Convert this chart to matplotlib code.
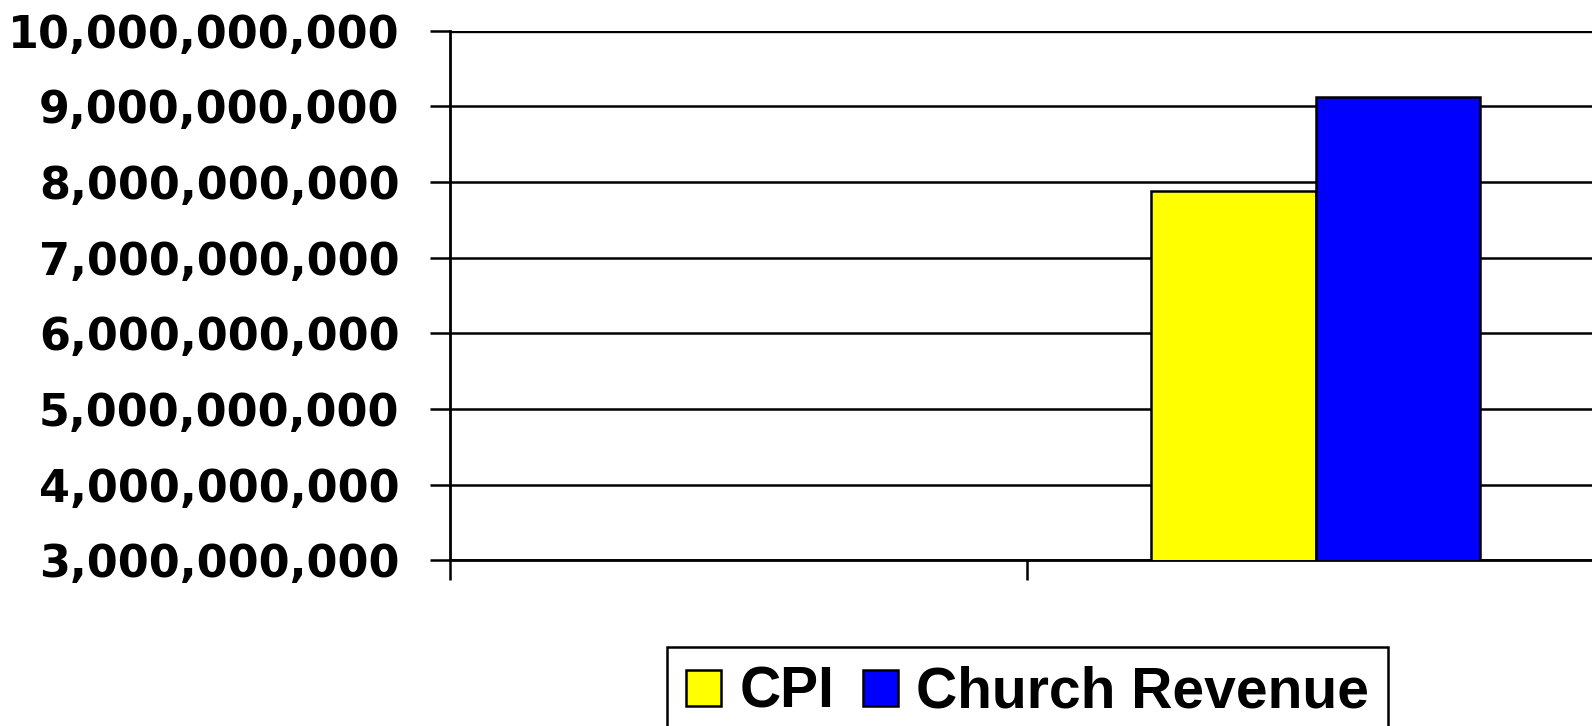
import numpy as np
import matplotlib
matplotlib.use("Agg")
import matplotlib.pyplot as plt
from matplotlib.patches import Rectangle

# ---- data ----
categories = ["", ""]
series_names = ["CPI", "Church Revenue"]
cpi = [np.nan, 7.88e9]
church_revenue = [np.nan, 9.115e9]
y_ticks = [3e9, 4e9, 5e9, 6e9, 7e9, 8e9, 9e9, 10e9]
y_tick_labels = ["3,000,000,000", "4,000,000,000", "5,000,000,000", "6,000,000,000",
                 "7,000,000,000", "8,000,000,000", "9,000,000,000", "10,000,000,000"]
colors = ["#FFFF00", "#0000FF"]

W, H = 1592, 726
fig = plt.figure(figsize=(W / 100, H / 100), dpi=100)
left, right = 450 / W, 1604 / W
top, bottom = 30.5 / H, 560.4 / H
ax = fig.add_axes([left, 1 - bottom, right - left, bottom - top])

n = len(categories)
x = np.arange(n) + 0.5
bw = 1 / 3.5
ax.bar(x - bw / 2, cpi, width=bw, color=colors[0], edgecolor="black", linewidth=1.8, zorder=3)
ax.bar(x + bw / 2, church_revenue, width=bw, color=colors[1], edgecolor="black", linewidth=1.8, zorder=3)

ax.set_xlim(0, n)
ax.set_ylim(y_ticks[0], y_ticks[-1])
ax.set_xticks(np.arange(n + 1))
ax.set_xticklabels([])
ax.set_yticks(y_ticks)
ax.set_yticklabels(y_tick_labels, fontfamily="DejaVu Sans", fontweight="bold", fontsize=32)
ax.tick_params(axis="y", length=14.4, width=1.8, pad=22, direction="out")
ax.tick_params(axis="x", length=14.4, width=1.8, direction="out")

ax.grid(axis="y", color="black", linewidth=1.8, zorder=0)
ax.set_axisbelow(True)
for s in ["top", "right"]:
    ax.spines[s].set_visible(False)
ax.spines["left"].set_linewidth(2.0)
ax.spines["bottom"].set_linewidth(2.0)
ax.axhline(y_ticks[-1], color="black", linewidth=2.4, zorder=1)

handles = [Rectangle((0, 0), 1, 1, facecolor=c, edgecolor="black", linewidth=1.8) for c in colors]
leg = fig.legend(handles, series_names, loc="upper left",
                 bbox_to_anchor=(667 / W, 1 - 647 / H), ncol=2,
                 prop={"family": "Liberation Sans", "weight": "bold", "size": 41},
                 handlelength=0.62, handleheight=0.6, handletextpad=0.32,
                 columnspacing=0.5, borderpad=0.33, borderaxespad=0,
                 frameon=True, fancybox=False, shadow=False, framealpha=1)
leg.get_frame().set_edgecolor("black")
leg.get_frame().set_linewidth(1.8)

fig.savefig("out.png", dpi=100)
